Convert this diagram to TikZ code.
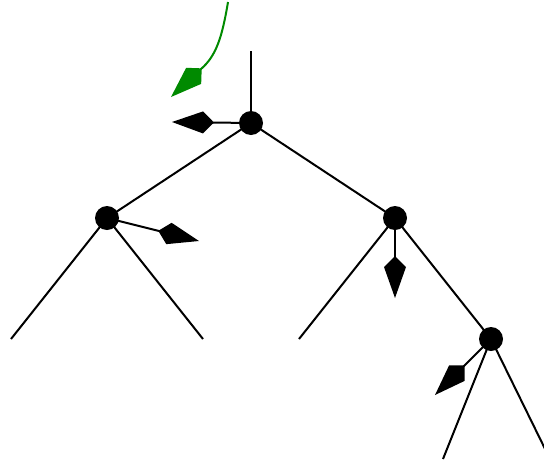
\documentclass[tikz,border=0pt]{standalone}
\usetikzlibrary{arrows.meta}
\definecolor{arrgreen}{RGB}{0,138,0}
\begin{document}
\begin{tikzpicture}[x=1pt,y=-1pt,
  dot/.style={circle,fill=black,inner sep=0pt,minimum size=24pt},
  edge/.style={line width=2pt},
  kitearrow/.style={line width=2pt,-{Kite[length=42pt,width=22pt,inset=11pt]}}]
\useasboundingbox (0,0) rectangle (544,464);
\clip (0,0) rectangle (544,464);
\node[dot] (r) at (251,123) {};
\node[dot] (a) at (107,218) {};
\node[dot] (b) at (395,218) {};
\node[dot] (c) at (491,339) {};
\coordinate (top) at (251,51);
\coordinate (a1) at (11,339);
\coordinate (a2) at (203,339);
\coordinate (b1) at (299,339);
\coordinate (c1) at (443,459);
\coordinate (c2) at (550,459);
\draw[edge] (r.center) -- (top);
\draw[edge] (r.center) -- (a.center);
\draw[edge] (r.center) -- (b.center);
\draw[edge] (a.center) -- (a1);
\draw[edge] (a.center) -- (a2);
\draw[edge] (b.center) -- (b1);
\draw[edge] (b.center) -- (c.center);
\draw[edge] (c.center) -- (c1);
\draw[edge] (c.center) -- (c2);
\coordinate (tr) at (172,122);
\coordinate (ta) at (199,241);
\coordinate (tb) at (395,298);
\coordinate (tc) at (435,395);
\draw[kitearrow] (r.center) -- (tr);
\draw[kitearrow] (a.center) -- (ta);
\draw[kitearrow] (b.center) -- (tb);
\draw[kitearrow] (c.center) -- (tc);
\coordinate (gs) at (228,2);
\coordinate (gb) at (201,69);
\coordinate (gt) at (171,97);
\draw[kitearrow,arrgreen] (gs) .. controls (222,38) and (216,56) .. (gb) -- (gt);
\end{tikzpicture}
\end{document}
